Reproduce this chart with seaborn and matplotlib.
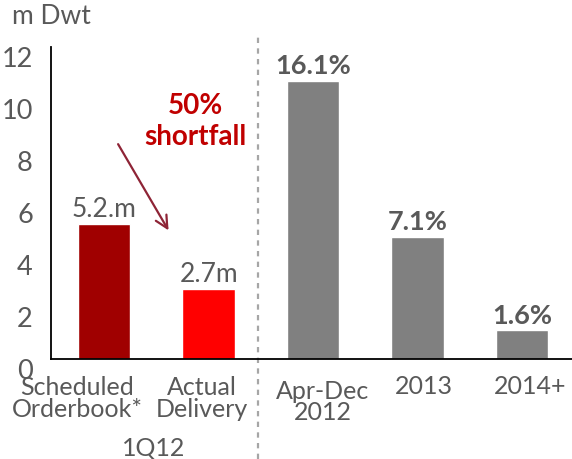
import seaborn as sns
import pandas as pd
import matplotlib.pyplot as plt
from matplotlib import transforms

categories = ["Scheduled\nOrderbook*", "Actual\nDelivery", "Apr-Dec\n2012", "2013", "2014+"]
values = [5.2, 2.7, 10.7, 4.7, 1.1]
bar_labels = ["5.2.m", "2.7m", "16.1%", "7.1%", "1.6%"]
bar_colors = ["#A00000", "#FF0000", "#808080", "#808080", "#808080"]
y_ticks = [0, 2, 4, 6, 8, 10, 12]

GRAY = "#595959"
RED = "#C00000"

sns.set_style("white")
plt.rcParams['font.family'] = ['Lato', 'DejaVu Sans']

df = pd.DataFrame({"cat": categories, "val": values})

fig = plt.figure(figsize=(5.72, 4.59), dpi=100)
ax = fig.add_axes([0.089, 0.218, 0.911, 0.68])
sns.barplot(data=df, x="cat", y="val", hue="cat", palette=bar_colors,
            legend=False, width=0.5, saturation=1, ax=ax)

ax.set_xlim(-0.51, 4.48)
ax.set_ylim(0, 12)
ax.set_yticks(y_ticks)
ax.set_yticklabels([str(t) for t in y_ticks], color=GRAY, fontsize=19.5)
for lab in ax.get_yticklabels():
    lab.set_va("top")
ax.tick_params(axis="y", length=0, pad=13)
ax.tick_params(axis="x", bottom=False, labelbottom=False)
ax.set_xlabel("")
ax.set_ylabel("")
sns.despine(ax=ax, top=True, right=True)
for s in ["left", "bottom"]:
    ax.spines[s].set_color("black")
    ax.spines[s].set_linewidth(1.3)

# value labels above bars
for i, (v, lab) in enumerate(zip(values, bar_labels)):
    bold = "%" in lab
    ax.annotate(lab, (i, v), xytext=(0, 4.5), textcoords="offset points",
                ha="center", va="baseline",
                fontsize=19.5 if bold else 19, color=GRAY,
                fontweight="bold" if bold else "normal")

# category labels
trans = transforms.blended_transform_factory(ax.transData, ax.transAxes)
label_shift = [-0.26, -0.06, 0.09, 0.06, 0.08]
label_y = [-0.056, -0.056, -0.068, -0.052, -0.052]
for i, (cat, dx, ly) in enumerate(zip(categories, label_shift, label_y)):
    ax.text(i + dx, ly, cat, transform=trans, ha="center", va="top",
            fontsize=18, color=GRAY, linespacing=0.9)
ax.text(0.47, -0.25, "1Q12", transform=trans, ha="center", va="top",
        fontsize=18, color=GRAY)

# separator
ax.plot([1.47, 1.47], [-0.32, 1.045], transform=trans, clip_on=False,
        color="#A6A6A6", lw=1.6, ls=(0, (2.4, 2.4)))

# shortfall annotation
ax.annotate("", xy=(0.63, 4.85), xytext=(0.12, 8.35),
            arrowprops=dict(arrowstyle="->", color="#8E2436", lw=1.6,
                            mutation_scale=22))
ax.text(0.87, 8.23, "50%\nshortfall", ha="center", va="baseline",
        fontsize=20, fontweight="bold", color=RED, linespacing=1.25)

fig.text(12 / 572, 1 - 16 / 459, "m Dwt", ha="left", va="center",
         fontsize=19, color=GRAY)

fig.savefig("out.png", dpi=100)
